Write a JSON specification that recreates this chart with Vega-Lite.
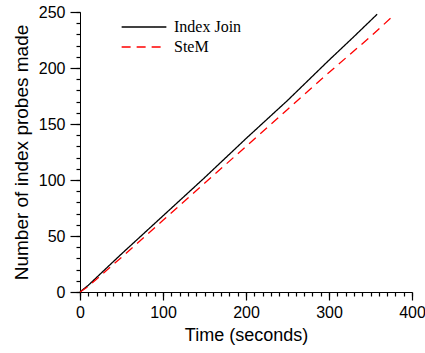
{
  "$schema": "https://vega.github.io/schema/vega-lite/v6.json",
  "autosize": "none",
  "width": 332,
  "height": 280,
  "padding": {"left": 80, "top": 12, "right": 13, "bottom": 61},
  "background": "white",
  "config": {
    "view": {"stroke": null},
    "axis": {
      "domainColor": "#000000",
      "labelColor": "#000000",
      "titleColor": "#000000",
      "labelFont": "Liberation Sans",
      "titleFont": "Liberation Sans",
      "labelFontSize": 16,
      "titleFontSize": 18,
      "titleFontWeight": "normal",
      "grid": false,
      "domainWidth": 1
    }
  },
  "data": {
    "values": [
      {"t": 0, "probes": 0, "series": "Index Join"},
      {"t": 10, "probes": 6, "series": "Index Join"},
      {"t": 50, "probes": 34, "series": "Index Join"},
      {"t": 100, "probes": 68, "series": "Index Join"},
      {"t": 150, "probes": 102, "series": "Index Join"},
      {"t": 200, "probes": 137, "series": "Index Join"},
      {"t": 250, "probes": 171, "series": "Index Join"},
      {"t": 300, "probes": 207, "series": "Index Join"},
      {"t": 330, "probes": 228, "series": "Index Join"},
      {"t": 358, "probes": 248, "series": "Index Join"},
      {"t": 0, "probes": 0, "series": "SteM"},
      {"t": 10, "probes": 5, "series": "SteM"},
      {"t": 50, "probes": 31, "series": "SteM"},
      {"t": 100, "probes": 64, "series": "SteM"},
      {"t": 150, "probes": 97, "series": "SteM"},
      {"t": 200, "probes": 130, "series": "SteM"},
      {"t": 250, "probes": 163, "series": "SteM"},
      {"t": 300, "probes": 196, "series": "SteM"},
      {"t": 350, "probes": 228, "series": "SteM"},
      {"t": 375, "probes": 245, "series": "SteM"}
    ]
  },
  "layer": [
    {
      "mark": {"type": "line", "strokeWidth": 1.3},
      "encoding": {
        "x": {
          "field": "t",
          "type": "quantitative",
          "title": "Time (seconds)",
          "scale": {"domain": [0, 400], "nice": false},
          "axis": {
            "orient": "bottom",
            "values": [0, 100, 200, 300, 400],
            "ticks": true,
            "tickSize": 8,
            "tickColor": "black",
            "tickWidth": 1.2,
            "labelPadding": 4,
            "labelOverlap": false,
            "labelBound": false,
            "labelFlush": false,
            "titlePadding": 6
          }
        },
        "y": {
          "field": "probes",
          "type": "quantitative",
          "title": "Number of index probes made",
          "scale": {"domain": [0, 250], "nice": false},
          "axis": {
            "orient": "left",
            "values": [0, 50, 100, 150, 200, 250],
            "ticks": true,
            "tickSize": 10,
            "tickColor": "black",
            "tickWidth": 1.2,
            "labelPadding": 5,
            "labelOverlap": false,
            "labelBound": false,
            "labelFlush": false,
            "titleFontSize": 19,
            "titlePadding": 7
          }
        },
        "color": {
          "field": "series",
          "type": "nominal",
          "scale": {"domain": ["Index Join", "SteM"], "range": ["black", "#ff0000"]},
          "legend": {
            "title": null,
            "orient": "none",
            "legendX": 52,
            "legendY": 3,
            "symbolType": "M-2,0H2",
            "symbolSize": 500,
            "symbolStrokeWidth": 1.3,
            "labelFont": "Liberation Serif",
            "labelFontSize": 16,
            "labelColor": "black",
            "labelOffset": 18,
            "rowPadding": -2
          }
        },
        "strokeDash": {
          "field": "series",
          "type": "nominal",
          "scale": {"domain": ["Index Join", "SteM"], "range": [[1, 0], [9, 6]]},
          "legend": null
        }
      }
    },
    {
      "mark": {"type": "line", "opacity": 0},
      "encoding": {
        "x": {
          "field": "t",
          "type": "quantitative",
          "axis": {
            "orient": "bottom",
            "values": [0,10,20,30,40,50,60,70,80,90,100,110,120,130,140,150,160,170,180,190,200,210,220,230,240,250,260,270,280,290,300,310,320,330,340,350,360,370,380,390,400],
            "ticks": true,
            "tickSize": 4,
            "tickColor": "black",
            "tickWidth": 1.2,
            "labels": false,
            "domain": false,
            "title": null
          }
        },
        "y": {
          "field": "probes",
          "type": "quantitative",
          "axis": {
            "orient": "left",
            "values": [0,10,20,30,40,50,60,70,80,90,100,110,120,130,140,150,160,170,180,190,200,210,220,230,240,250],
            "ticks": true,
            "tickSize": 4,
            "tickColor": "black",
            "tickWidth": 1.2,
            "labels": false,
            "domain": false,
            "title": null
          }
        },
        "detail": {"field": "series", "type": "nominal"}
      }
    }
  ],
  "resolve": {"axis": {"x": "independent", "y": "independent"}}
}
